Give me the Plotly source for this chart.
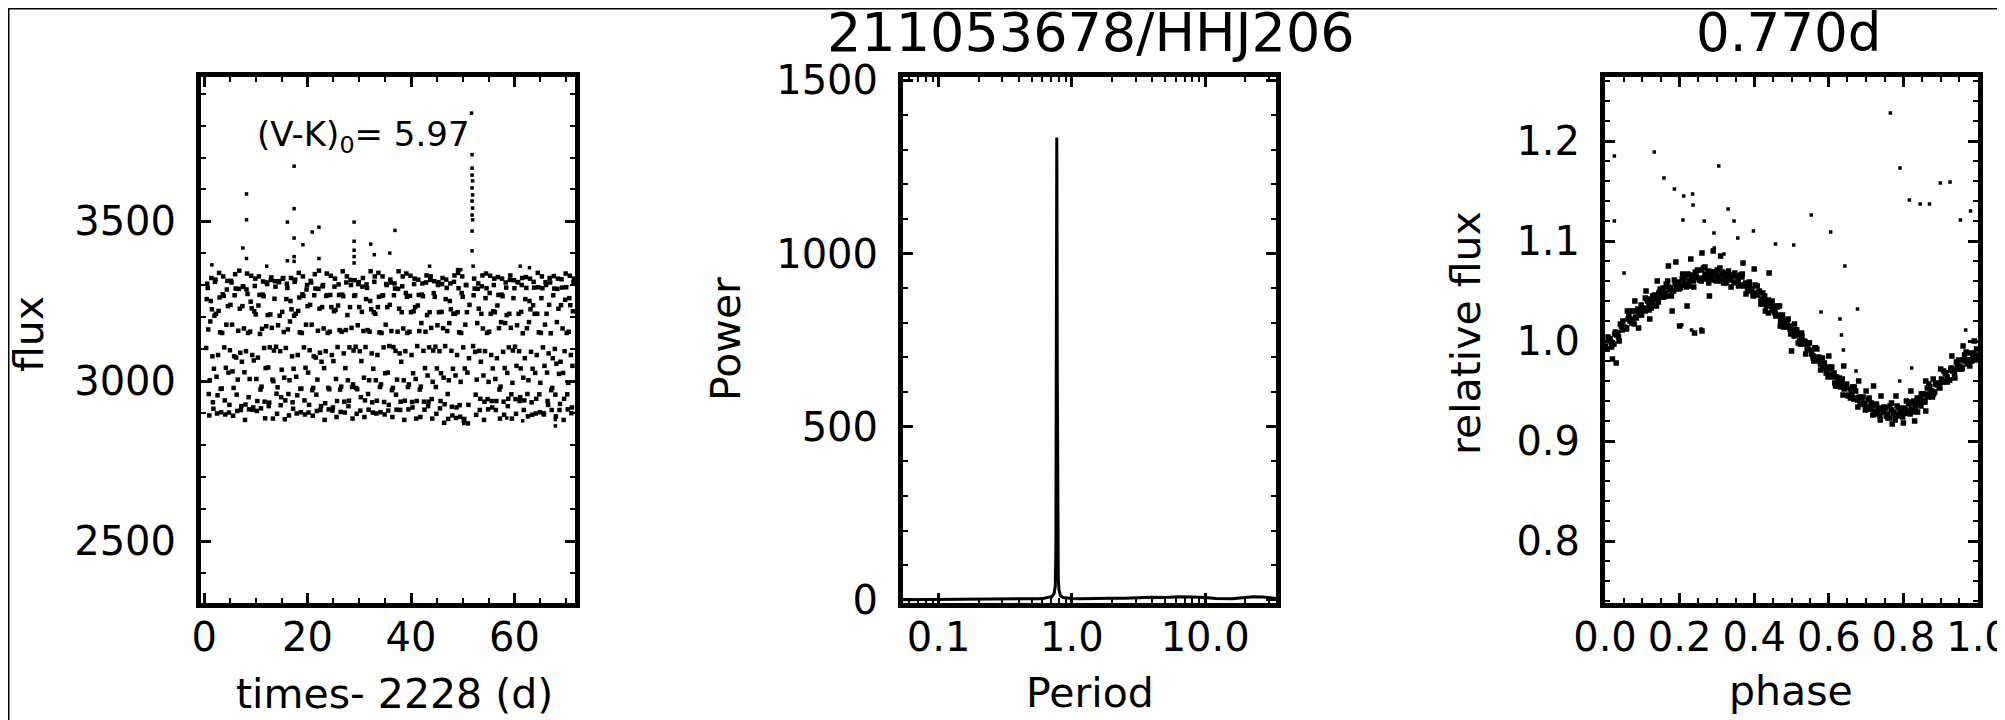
import math
import plotly.graph_objects as go

# ---------------- data ----------------
# Left panel: light curve (time - 2228 d, flux) -- two interleaved sample sets
time_days = [
    0.4, 0.6, 0.8, 1.0, 1.2, 1.4, 1.6, 1.8, 2.0, 2.2, 2.4, 2.6, 2.8, 3.0, 3.2, 3.4,
    3.6, 3.8, 4.0, 4.2, 4.4, 4.6, 4.8, 5.0, 5.2, 5.4, 5.6, 5.8, 6.0, 6.2, 6.4, 6.6,
    6.8, 7.0, 7.2, 7.4, 7.6, 7.8, 8.0, 8.2, 8.4, 8.6, 8.8, 9.0, 9.2, 9.4, 9.6, 9.8,
    10.0, 10.2, 10.4, 10.6, 10.8, 11.0, 11.2, 11.4, 11.6, 11.8, 12.0, 12.2, 12.4, 12.6, 12.8, 13.0,
    13.2, 13.4, 13.6, 13.8, 14.0, 14.2, 14.4, 14.6, 14.8, 15.0, 15.2, 15.4, 15.6, 15.8, 16.0, 16.2,
    16.4, 16.6, 16.8, 17.0, 17.2, 17.4, 17.6, 17.8, 18.0, 18.2, 18.4, 18.6, 18.8, 19.0, 19.2, 19.4,
    19.6, 19.8, 20.0, 20.2, 20.4, 20.6, 20.8, 21.0, 21.2, 21.4, 21.6, 21.8, 22.0, 22.2, 22.4, 22.6,
    22.8, 23.0, 23.2, 23.4, 23.6, 23.8, 24.0, 24.2, 24.4, 24.6, 24.8, 25.0, 25.2, 25.4, 25.6, 25.8,
    26.0, 26.2, 26.4, 26.6, 26.8, 27.0, 27.2, 27.4, 27.6, 27.8, 28.0, 28.2, 28.4, 28.6, 28.8, 29.0,
    29.2, 29.4, 29.6, 29.8, 30.0, 30.2, 30.4, 30.6, 30.8, 31.0, 31.2, 31.4, 31.6, 31.8, 32.0, 32.2,
    32.4, 32.6, 32.8, 33.0, 33.2, 33.4, 33.6, 33.8, 34.0, 34.2, 34.4, 34.6, 34.8, 35.0, 35.2, 35.4,
    35.6, 35.8, 36.0, 36.2, 36.4, 36.6, 36.8, 37.0, 37.2, 37.4, 37.6, 37.8, 38.0, 38.2, 38.4, 38.6,
    38.8, 39.0, 39.2, 39.4, 39.6, 39.8, 40.0, 40.2, 40.4, 40.6, 40.8, 41.0, 41.2, 41.4, 41.6, 41.8,
    42.0, 42.2, 42.4, 42.6, 42.8, 43.0, 43.2, 43.4, 43.6, 43.8, 44.0, 44.2, 44.4, 44.6, 44.8, 45.0,
    45.2, 45.4, 45.6, 45.8, 46.0, 46.2, 46.4, 46.6, 46.8, 47.0, 47.2, 47.4, 47.6, 47.8, 48.0, 48.2,
    48.4, 48.6, 48.8, 49.0, 49.2, 49.4, 49.6, 49.8, 50.0, 50.2, 50.4, 50.6, 50.8, 51.0, 51.2,
    52.0, 52.2, 52.4, 52.6, 52.8, 53.0, 53.2, 53.4, 53.6, 53.8, 54.0, 54.2, 54.4, 54.6,
    54.8, 55.0, 55.2, 55.4, 55.6, 55.8, 56.0, 56.2, 56.4, 56.6, 56.8, 57.0, 57.2, 57.4, 57.6, 57.8,
    58.0, 58.2, 58.4, 58.6, 58.8, 59.0, 59.2, 59.4, 59.6, 59.8, 60.0, 60.2, 60.4, 60.6, 60.8, 61.0,
    61.2, 61.4, 61.6, 61.8, 62.0, 62.2, 62.4, 62.6, 62.8, 63.0, 63.2, 63.4, 63.6, 63.8, 64.0, 64.2,
    64.4, 64.6, 64.8, 65.0, 65.2, 65.4, 65.6, 65.8, 66.0, 66.2, 66.4, 66.6, 66.8, 67.0, 67.2, 67.4,
    67.6, 67.8, 68.0, 68.2, 68.4, 68.6, 68.8, 69.0, 69.2, 69.4, 69.6, 69.8, 70.0, 70.2, 70.4, 70.6,
    70.8, 71.0, 71.2, 71.4,
]
flux = [
    3104, 3305, 3162, 2893, 3187, 3323, 3078, 2914, 3205, 3318, 3014, 2956, 3220, 3262, 2976, 2977,
    3272, 3267, 2940, 3042, 3287, 3235, 2902, 3097, 3314, 3177, 2892, 3078, 3335, 3074, 2907, 3158,
    3346, 3089, 2922, 3235, 3295, 3028, 2927, 3287, 3273, 2950, 3007, 3249, 3228, 2911, 3065, 3298,
    3209, 2907, 3074, 3328, 3148, 2915, 3164, 3312, 3104, 2884, 3172, 3304, 3043, 2933, 3209, 3325,
    3005, 3000, 3258, 3296, 2961, 2981, 3313, 3205, 2925, 3036, 3321, 3154, 2881, 3104, 3305, 3162,
    2893, 3187, 3323, 3078, 2914, 3205, 3318, 3014, 2956, 3220, 3262, 2976, 2977, 3272, 3267, 2940,
    3042, 3287, 3235, 2902, 3097, 3314, 3177, 2892, 3078, 3335, 3074, 2907, 3158, 3346, 3089, 2922,
    3232, 3301, 3041, 2931, 3267, 3269, 2979, 2975, 3270, 3232, 2908, 3063, 3296, 3223, 2888, 3107,
    3303, 3160, 2904, 3155, 3344, 3087, 2902, 3160, 3328, 3003, 2939, 3232, 3301, 2982, 2990, 3267,
    3269, 2979, 2975, 3304, 3232, 2908, 3063, 3296, 3157, 2888, 3107, 3303, 3160, 2911, 3155, 3344,
    3087, 2902, 3216, 3328, 3003, 2939, 3232, 3264, 2982, 2990, 3267, 3269, 2935, 3025, 3304, 3232,
    2908, 3110, 3318, 3157, 2888, 3107, 3306, 3095, 2911, 3155, 3344, 3087, 2936, 3216, 3328, 3003,
    2939, 3276, 3264, 2982, 2990, 3267, 3216, 2935, 3025, 3304, 3232, 2883, 3110, 3318, 3157, 2888,
    3182, 3306, 3095, 2911, 3155, 3331, 3018, 2936, 3216, 3328, 2944, 2998, 3276, 3264, 2982, 3040,
    3301, 3216, 2915, 3025, 3304, 3166, 2870, 3110, 3318, 3157, 2882, 3182, 3306, 3095, 2893, 3211,
    3331, 3018, 2918, 3216, 3291, 2925, 2998, 3276, 3264, 2876, 3040, 3301, 3216, 2868, 3072,
    3110, 3321, 3092, 2895, 3182, 3306, 3095, 2945, 3211, 3331, 3018, 2936, 3260, 3291,
    2944, 2998, 3276, 3211, 2938, 3040, 3301, 3216, 2910, 3072, 3326, 3166, 2883, 3185, 3321, 3092,
    2895, 3182, 3293, 3026, 2945, 3211, 3331, 2959, 2995, 3260, 3291, 2944, 3048, 3310, 3211, 2938,
    3040, 3301, 3150, 2910, 3072, 3326, 3166, 2890, 3185, 3321, 3092, 2895, 3238, 3293, 3026, 2945,
    3211, 3294, 2959, 2995, 3260, 3291, 2900, 3048, 3310, 3211, 2938, 3087, 3323, 3150, 2910, 3072,
    3329, 3101, 2890, 3185, 3321, 3023, 2929, 3238, 3293, 3026, 2945, 3255, 3294, 2959, 2995, 3260,
    3238, 2900, 3048, 3310,
]
time_days_b = [
    0.5, 0.7, 0.9, 1.1, 1.3, 1.5, 1.7, 1.9, 2.1, 2.3, 2.5, 2.7, 2.9, 3.1, 3.3, 3.5,
    3.7, 3.9, 4.1, 4.3, 4.5, 4.7, 4.9, 5.1, 5.3, 5.5, 5.7, 5.9, 6.1, 6.3, 6.5, 6.7,
    6.9, 7.1, 7.3, 7.5, 7.7, 7.9, 8.1, 8.3, 8.5, 8.7, 8.9, 9.1, 9.3, 9.5, 9.7, 9.9,
    10.1, 10.3, 10.5, 10.7, 10.9, 11.1, 11.3, 11.5, 11.7, 11.9, 12.1, 12.3, 12.5, 12.7, 12.9, 13.1,
    13.3, 13.5, 13.7, 13.9, 14.1, 14.3, 14.5, 14.7, 14.9, 15.1, 15.3, 15.5, 15.7, 15.9, 16.1, 16.3,
    16.5, 16.7, 16.9, 17.1, 17.3, 17.5, 17.7, 17.9, 18.1, 18.3, 18.5, 18.7, 18.9, 19.1, 19.3, 19.5,
    19.7, 19.9, 20.1, 20.3, 20.5, 20.7, 20.9, 21.1, 21.3, 21.5, 21.7, 21.9, 22.1, 22.3, 22.5, 22.7,
    22.9, 23.1, 23.3, 23.5, 23.7, 23.9, 24.1, 24.3, 24.5, 24.7, 24.9, 25.1, 25.3, 25.5, 25.7, 25.9,
    26.1, 26.3, 26.5, 26.7, 26.9, 27.1, 27.3, 27.5, 27.7, 27.9, 28.1, 28.3, 28.5, 28.7, 28.9, 29.1,
    29.3, 29.5, 29.7, 29.9, 30.1, 30.3, 30.5, 30.7, 30.9, 31.1, 31.3, 31.5, 31.7, 31.9, 32.1, 32.3,
    32.5, 32.7, 32.9, 33.1, 33.3, 33.5, 33.7, 33.9, 34.1, 34.3, 34.5, 34.7, 34.9, 35.1, 35.3, 35.5,
    35.7, 35.9, 36.1, 36.3, 36.5, 36.7, 36.9, 37.1, 37.3, 37.5, 37.7, 37.9, 38.1, 38.3, 38.5, 38.7,
    38.9, 39.1, 39.3, 39.5, 39.7, 39.9, 40.1, 40.3, 40.5, 40.7, 40.9, 41.1, 41.3, 41.5, 41.7, 41.9,
    42.1, 42.3, 42.5, 42.7, 42.9, 43.1, 43.3, 43.5, 43.7, 43.9, 44.1, 44.3, 44.5, 44.7, 44.9, 45.1,
    45.3, 45.5, 45.7, 45.9, 46.1, 46.3, 46.5, 46.7, 46.9, 47.1, 47.3, 47.5, 47.7, 47.9, 48.1, 48.3,
    48.5, 48.7, 48.9, 49.1, 49.3, 49.5, 49.7, 49.9, 50.1, 50.3, 50.5, 50.7, 50.9, 51.1, 51.3,
    52.1, 52.3, 52.5, 52.7, 52.9, 53.1, 53.3, 53.5, 53.7, 53.9, 54.1, 54.3, 54.5, 54.7,
    54.9, 55.1, 55.3, 55.5, 55.7, 55.9, 56.1, 56.3, 56.5, 56.7, 56.9, 57.1, 57.3, 57.5, 57.7, 57.9,
    58.1, 58.3, 58.5, 58.7, 58.9, 59.1, 59.3, 59.5, 59.7, 59.9, 60.1, 60.3, 60.5, 60.7, 60.9, 61.1,
    61.3, 61.5, 61.7, 61.9, 62.1, 62.3, 62.5, 62.7, 62.9, 63.1, 63.3, 63.5, 63.7, 63.9, 64.1, 64.3,
    64.5, 64.7, 64.9, 65.1, 65.3, 65.5, 65.7, 65.9, 66.1, 66.3, 66.5, 66.7, 66.9, 67.1, 67.3, 67.5,
    67.7, 67.9, 68.1, 68.3, 68.5, 68.7, 68.9, 69.1, 69.3, 69.5, 69.7, 69.9, 70.1, 70.3, 70.5, 70.7,
    70.9, 71.1, 71.3, 71.5,
]
flux_b = [
    3257, 3292, 2960, 3003, 3251, 3225, 2934, 3039, 3311, 3211, 2899, 3082, 3339, 3153, 2903, 3151,
    3328, 3106, 2896, 3177, 3314, 3027, 2926, 3239, 3309, 3031, 2979, 3269, 3290, 2958, 3005, 3289,
    3227, 2910, 3061, 3297, 3165, 2879, 3094, 3337, 3151, 2912, 3155, 3330, 3082, 2918, 3219, 3321,
    3007, 2938, 3237, 3270, 2974, 2983, 3271, 3266, 2936, 3041, 3309, 3207, 2922, 3106, 3317, 3167,
    2883, 3096, 3313, 3108, 2898, 3175, 3310, 3094, 2950, 3217, 3323, 3011, 2940, 3257, 3292, 2960,
    3003, 3251, 3225, 2934, 3039, 3311, 3211, 2899, 3082, 3339, 3153, 2903, 3151, 3328, 3106, 2896,
    3177, 3301, 3027, 2926, 3239, 3309, 2972, 2979, 3269, 3290, 2958, 3005, 3289, 3227, 2910, 3061,
    3297, 3165, 2879, 3094, 3337, 3151, 2912, 3155, 3330, 3082, 2918, 3219, 3321, 3007, 2938, 3237,
    3270, 2974, 2983, 3271, 3266, 2936, 3041, 3309, 3207, 2922, 3106, 3317, 3167, 2883, 3096, 3316,
    3108, 2898, 3175, 3310, 3094, 2950, 3217, 3323, 3011, 2940, 3257, 3292, 2960, 3003, 3251, 3225,
    2934, 3039, 3311, 3211, 2899, 3082, 3339, 3153, 2903, 3151, 3328, 3106, 2896, 3177, 3301, 3027,
    2926, 3239, 3309, 2972, 2979, 3269, 3290, 2958, 3005, 3289, 3227, 2910, 3061, 3297, 3165, 2879,
    3094, 3337, 3151, 2912, 3155, 3330, 3082, 2918, 3219, 3321, 3007, 2938, 3237, 3270, 2974, 2983,
    3271, 3266, 2936, 3041, 3309, 3207, 2922, 3106, 3317, 3167, 2883, 3096, 3313, 3108, 2898, 3175,
    3310, 3094, 2938, 3217, 3323, 3011, 2928, 3257, 3292, 2960, 3003, 3251, 3225, 2920, 3039, 3311,
    3211, 2885, 3082, 3339, 3153, 2889, 3151, 3328, 3106, 2882, 3177, 3301, 3027, 2926, 3239,
    3269, 3290, 2958, 3005, 3289, 3227, 2910, 3061, 3297, 3165, 2879, 3094, 3337, 3151,
    2912, 3155, 3330, 3082, 2918, 3219, 3321, 3007, 2938, 3237, 3270, 2974, 2983, 3271, 3266, 2936,
    3041, 3309, 3207, 2922, 3106, 3317, 3167, 2883, 3096, 3316, 3108, 2898, 3175, 3310, 3094, 2950,
    3217, 3323, 3011, 2940, 3257, 3292, 2960, 3003, 3251, 3225, 2934, 3039, 3311, 3211, 2899, 3082,
    3339, 3153, 2903, 3151, 3328, 3106, 2896, 3177, 3301, 3027, 2926, 3239, 3309, 2972, 2979, 3269,
    3290, 2958, 3055, 3289, 3227, 2910, 3061, 3319, 3165, 2879, 3094, 3337, 3151, 2912, 3155, 3330,
    3082, 2918, 3219, 3321,
]
# isolated points (flare near day 51.8 and scattered outliers)
time_outliers = [
    51.7, 51.8, 51.8, 51.8, 51.9, 51.8, 51.9, 51.8, 51.9, 51.8, 51.9, 51.8, 51.8, 52.0,
    8.2, 8.2, 7.5, 8.2, 17.4, 17.4, 16.1, 17.4, 19.1, 20.9, 22.2, 22.2, 16.1, 17.4, 17.4,
    29.0, 29.0, 29.0, 29.0, 29.0, 32.2, 32.9, 35.9, 36.9, 12.1, 1.5, 43.6, 49.0, 49.6,
    61.1, 62.9, 61.6, 67.9, 67.9, 50.2, 58.5,
]
flux_outliers = [
    3839, 3709, 3667, 3645, 3627, 3605, 3583, 3564, 3542, 3520, 3505, 3470, 3408, 3360,
    3586, 3505, 3417, 3384, 3673, 3540, 3498, 3448, 3427, 3467, 3482, 3384, 3377, 3390, 3375,
    3498, 3438, 3410, 3390, 3370, 3429, 3396, 3401, 3472, 3360, 3364, 3360, 3349, 3349,
    3360, 3355, 2876, 2860, 2880, 2868, 2885,
]

# Middle panel: periodogram
period_d = [
    0.054, 0.06, 0.07, 0.08, 0.09, 0.10, 0.12, 0.15, 0.18, 0.22,
    0.27, 0.33, 0.38, 0.44, 0.5, 0.56, 0.62, 0.67, 0.71, 0.735,
    0.75, 0.758, 0.764, 0.768, 0.770, 0.772, 0.776, 0.782, 0.79, 0.80,
    0.82, 0.86, 0.92, 1.0, 1.15, 1.35, 1.6, 2.0, 2.5, 3.2,
    4.0, 5.0, 6.3, 8.0, 10.0, 12.0, 14.0, 16.0, 19.0, 23.0,
    27.0, 31.0, 34.0,
]
power = [
    0.5, 0.6, 0.8, 0.7, 0.9, 1.1, 1.0, 1.4, 1.2, 1.8,
    2.1, 1.6, 2.5, 2.2, 3.0, 3.6, 4.5, 6.5, 10, 18,
    40, 150, 560, 1150, 1335, 1200, 700, 220, 60, 28,
    12, 7, 5, 4, 3.5, 4.2, 3.8, 5, 4.6, 6.2,
    7.5, 6.8, 9, 8, 7, 4, 2.5, 3, 6, 9,
    8, 5, 4,
]

# Right panel: phase-folded light curve (P = 0.770 d)
phase_band = [
    0.001, 0.006, 0.011, 0.016, 0.021, 0.026, 0.031, 0.036, 0.041, 0.046,
    0.052, 0.057, 0.062, 0.067, 0.072, 0.077, 0.082, 0.087, 0.092, 0.097,
    0.103, 0.108, 0.113, 0.118, 0.123, 0.128, 0.133, 0.138, 0.143, 0.148,
    0.151, 0.156, 0.161, 0.166, 0.171, 0.176, 0.181, 0.186, 0.191, 0.196,
    0.202, 0.207, 0.212, 0.217, 0.222, 0.227, 0.232, 0.237, 0.242, 0.247,
    0.253, 0.258, 0.263, 0.268, 0.273, 0.278, 0.283, 0.288, 0.293, 0.298,
    0.301, 0.306, 0.311, 0.316, 0.321, 0.326, 0.331, 0.336, 0.341, 0.346,
    0.352, 0.357, 0.362, 0.367, 0.372, 0.377, 0.382, 0.387, 0.392, 0.397,
    0.403, 0.408, 0.413, 0.418, 0.423, 0.428, 0.433, 0.438, 0.443, 0.448,
    0.451, 0.456, 0.461, 0.466, 0.471, 0.476, 0.481, 0.486, 0.491, 0.496,
    0.502, 0.507, 0.512, 0.517, 0.522, 0.527, 0.532, 0.537, 0.542, 0.547,
    0.553, 0.558, 0.563, 0.568, 0.573, 0.578, 0.583, 0.588, 0.593, 0.598,
    0.601, 0.606, 0.611, 0.616, 0.621, 0.626, 0.631, 0.636, 0.641, 0.646,
    0.652, 0.657, 0.662, 0.667, 0.672, 0.677, 0.682, 0.687, 0.692, 0.697,
    0.702, 0.707, 0.712, 0.717, 0.722, 0.727, 0.732, 0.737, 0.742, 0.747,
    0.753, 0.758, 0.763, 0.768, 0.773, 0.778, 0.783, 0.788, 0.793, 0.798,
    0.802, 0.807, 0.812, 0.817, 0.822, 0.827, 0.832, 0.837, 0.842, 0.847,
    0.851, 0.856, 0.861, 0.866, 0.871, 0.876, 0.881, 0.886, 0.891, 0.896,
    0.902, 0.907, 0.912, 0.917, 0.922, 0.927, 0.932, 0.937, 0.942, 0.947,
    0.951, 0.956, 0.961, 0.966, 0.971, 0.976, 0.981, 0.986, 0.991, 0.996,
    0.004, 0.014, 0.024, 0.034, 0.044, 0.054, 0.064, 0.074, 0.084, 0.094,
    0.104, 0.114, 0.124, 0.134, 0.144, 0.154, 0.164, 0.174, 0.184, 0.194,
    0.204, 0.214, 0.224, 0.234, 0.244, 0.254, 0.264, 0.274, 0.284, 0.294,
    0.304, 0.314, 0.324, 0.334, 0.344, 0.354, 0.364, 0.374, 0.384, 0.394,
    0.404, 0.414, 0.424, 0.434, 0.444, 0.454, 0.464, 0.474, 0.484, 0.494,
    0.504, 0.514, 0.524, 0.534, 0.544, 0.554, 0.564, 0.574, 0.584, 0.594,
    0.604, 0.614, 0.624, 0.634, 0.644, 0.654, 0.664, 0.674, 0.684, 0.694,
    0.704, 0.714, 0.724, 0.734, 0.744, 0.754, 0.764, 0.774, 0.784, 0.794,
    0.804, 0.814, 0.824, 0.834, 0.844, 0.854, 0.864, 0.874, 0.884, 0.894,
    0.904, 0.914, 0.924, 0.934, 0.944, 0.954, 0.964, 0.974, 0.984, 0.994,
    0.008, 0.018, 0.028, 0.038, 0.048, 0.058, 0.068, 0.078, 0.088, 0.098,
    0.108, 0.118, 0.128, 0.138, 0.148, 0.158, 0.168, 0.178, 0.188, 0.198,
    0.208, 0.218, 0.228, 0.238, 0.248, 0.258, 0.268, 0.278, 0.288, 0.298,
    0.308, 0.318, 0.328, 0.338, 0.348, 0.358, 0.368, 0.378, 0.388, 0.398,
    0.408, 0.418, 0.428, 0.438, 0.448, 0.458, 0.468, 0.478, 0.488, 0.498,
    0.508, 0.518, 0.528, 0.538, 0.548, 0.558, 0.568, 0.578, 0.588, 0.598,
    0.608, 0.618, 0.628, 0.638, 0.648, 0.658, 0.668, 0.678, 0.688, 0.698,
    0.708, 0.718, 0.728, 0.738, 0.748, 0.758, 0.768, 0.778, 0.788, 0.798,
    0.808, 0.818, 0.828, 0.838, 0.848, 0.858, 0.868, 0.878, 0.888, 0.898,
    0.908, 0.918, 0.928, 0.938, 0.948, 0.958, 0.968, 0.978, 0.988, 0.998,
    0.24, 0.26, 0.20, 0.12, 0.09, 0.18, 0.22, 0.28, 0.17, 0.19,
    0.23, 0.26, 0.29, 0.31, 0.37, 0.40, 0.44, 0.43, 0.47, 0.50,
    0.56, 0.60, 0.64, 0.70, 0.74, 0.77, 0.80, 0.83, 0.86, 0.88,
    0.90, 0.93, 0.96, 0.99, 0.02, 0.03, 0.06, 0.08, 0.11, 0.14,
    0.68, 0.72, 0.78, 0.82, 0.86,
]
relflux_band = [
    0.995, 0.992, 1.002, 0.999, 0.997, 1.007, 1.006, 1.004, 1.017, 1.011,
    1.014, 1.012, 1.022, 1.020, 1.018, 1.030, 1.024, 1.030, 1.026, 1.036,
    1.033, 1.030, 1.042, 1.035, 1.041, 1.037, 1.046, 1.042, 1.039, 1.049,
    1.044, 1.053, 1.048, 1.045, 1.054, 1.053, 1.050, 1.061, 1.054, 1.059,
    1.053, 1.062, 1.059, 1.056, 1.067, 1.060, 1.064, 1.060, 1.069, 1.063,
    1.061, 1.071, 1.063, 1.067, 1.062, 1.070, 1.065, 1.061, 1.069, 1.066,
    1.071, 1.065, 1.060, 1.068, 1.064, 1.060, 1.070, 1.061, 1.065, 1.059,
    1.065, 1.061, 1.056, 1.064, 1.055, 1.058, 1.052, 1.059, 1.051, 1.046,
    1.056, 1.046, 1.049, 1.042, 1.048, 1.041, 1.035, 1.041, 1.036, 1.031,
    1.035, 1.028, 1.034, 1.026, 1.020, 1.026, 1.020, 1.014, 1.022, 1.012,
    1.011, 1.005, 1.011, 1.006, 1.000, 1.008, 0.997, 0.999, 0.992, 0.998,
    0.991, 0.985, 0.993, 0.982, 0.984, 0.977, 0.983, 0.975, 0.968, 0.974,
    0.966, 0.972, 0.964, 0.958, 0.964, 0.960, 0.954, 0.962, 0.952, 0.954,
    0.945, 0.952, 0.947, 0.942, 0.950, 0.941, 0.944, 0.937, 0.944, 0.936,
    0.932, 0.941, 0.932, 0.936, 0.930, 0.937, 0.930, 0.925, 0.933, 0.929,
    0.933, 0.927, 0.923, 0.931, 0.929, 0.925, 0.935, 0.927, 0.932, 0.927,
    0.933, 0.931, 0.928, 0.939, 0.932, 0.938, 0.934, 0.943, 0.938, 0.935,
    0.947, 0.941, 0.947, 0.944, 0.954, 0.950, 0.947, 0.957, 0.956, 0.954,
    0.962, 0.959, 0.968, 0.964, 0.961, 0.971, 0.970, 0.967, 0.979, 0.972,
    0.975, 0.972, 0.981, 0.980, 0.977, 0.988, 0.981, 0.986, 0.983, 0.992,
    0.992, 1.002, 0.997, 1.008, 1.015, 1.013, 1.026, 1.022, 1.023, 1.030,
    1.032, 1.040, 1.033, 1.043, 1.048, 1.044, 1.057, 1.051, 1.050, 1.056,
    1.056, 1.064, 1.055, 1.064, 1.067, 1.062, 1.073, 1.065, 1.062, 1.066,
    1.064, 1.069, 1.058, 1.064, 1.066, 1.058, 1.066, 1.056, 1.050, 1.052,
    1.048, 1.050, 1.037, 1.040, 1.039, 1.029, 1.035, 1.023, 1.016, 1.015,
    1.009, 1.011, 0.997, 1.000, 0.997, 0.987, 0.993, 0.980, 0.973, 0.973,
    0.966, 0.968, 0.955, 0.958, 0.956, 0.946, 0.954, 0.943, 0.937, 0.938,
    0.934, 0.938, 0.927, 0.932, 0.932, 0.925, 0.935, 0.928, 0.925, 0.930,
    0.928, 0.937, 0.929, 0.938, 0.942, 0.939, 0.953, 0.948, 0.949, 0.957,
    0.959, 0.968, 0.961, 0.971, 0.976, 0.974, 0.986, 0.981, 0.980, 0.986,
    1.004, 0.994, 1.009, 1.000, 1.020, 1.013, 1.030, 1.017, 1.032, 1.026,
    1.043, 1.031, 1.045, 1.035, 1.052, 1.044, 1.060, 1.045, 1.058, 1.052,
    1.067, 1.054, 1.066, 1.054, 1.071, 1.060, 1.074, 1.058, 1.069, 1.060,
    1.073, 1.058, 1.068, 1.054, 1.068, 1.055, 1.067, 1.047, 1.056, 1.045,
    1.055, 1.037, 1.045, 1.028, 1.040, 1.025, 1.035, 1.014, 1.020, 1.007,
    1.017, 0.998, 1.005, 0.987, 0.998, 0.983, 0.992, 0.971, 0.978, 0.964,
    0.974, 0.955, 0.963, 0.946, 0.957, 0.943, 0.954, 0.934, 0.943, 0.931,
    0.943, 0.926, 0.936, 0.921, 0.934, 0.923, 0.938, 0.921, 0.933, 0.924,
    0.940, 0.927, 0.940, 0.929, 0.947, 0.939, 0.957, 0.944, 0.958, 0.953,
    0.970, 0.959, 0.973, 0.963, 0.981, 0.973, 0.989, 0.975, 0.988, 0.981,
    1.008, 1.010, 1.015, 1.022, 1.013, 1.030, 1.035, 1.045, 1.075, 1.079,
    1.082, 1.088, 1.090, 1.085, 1.078, 1.072, 1.068, 1.030, 1.015, 0.990,
    0.980, 0.985, 0.975, 0.950, 0.945, 0.917, 0.918, 0.920, 0.930, 0.962,
    0.972, 0.985, 0.995, 1.000, 0.982, 0.978, 1.030, 1.040, 1.050, 1.060,
    0.960, 0.955, 0.945, 0.950, 0.960,
]
phase_outliers = [
    0.025, 0.025, 0.051, 0.132, 0.158, 0.186, 0.211, 0.235, 0.236, 0.209,
    0.266, 0.305, 0.330, 0.346, 0.356, 0.398, 0.292, 0.293, 0.319, 0.457,
    0.506, 0.553, 0.605, 0.643, 0.579, 0.630, 0.677, 0.634, 0.639, 0.765,
    0.791, 0.816, 0.845, 0.870, 0.899, 0.925, 0.953, 0.980, 0.967, 0.822,
    0.790, 0.673, 0.232, 0.258, 0.206,
]
relflux_outliers = [
    1.185, 1.120, 1.068, 1.189, 1.163, 1.152, 1.145, 1.147, 1.136, 1.121,
    1.120, 1.175, 1.132, 1.120, 1.103, 1.110, 1.108, 1.093, 1.087, 1.097,
    1.096, 1.126, 1.109, 1.075, 1.029, 1.022, 1.032, 1.006, 0.991, 1.228,
    1.173, 1.141, 1.137, 1.137, 1.158, 1.159, 1.121, 1.130, 1.011, 0.973,
    0.960, 0.970, 1.011, 1.012, 1.016,
]

# tick labels / ranges
lc_ticks = [0, 20, 40, 60]
flux_ticks = [2500, 3000, 3500]
period_ticks = [0.1, 1.0, 10.0]
period_ticktext = ["0.1", "1.0", "10.0"]
period_minor = [0.06, 0.07, 0.08, 0.09, 0.2, 0.3, 0.4, 0.5, 0.6, 0.7, 0.8, 0.9,
                2, 3, 4, 5, 6, 7, 8, 9, 20, 30]
power_ticks = [0, 500, 1000, 1500]
phase_ticks = [0.0, 0.2, 0.4, 0.6, 0.8, 1.0]
phase_ticktext = ["0.0", "0.2", "0.4", "0.6", "0.8", "1.0"]
rel_ticks = [0.8, 0.9, 1.0, 1.1, 1.2]
rel_ticktext = ["0.8", "0.9", "1.0", "1.1", "1.2"]

W, H = 2005, 720
FONT = "DejaVu Sans"
TICKSIZE = 40
LABSIZE = 41


def px(x):
    return x / W


def py(y):
    return 1 - y / H


YDOM = [py(595), py(69)]

fig = go.Figure()
dot = dict(symbol="square", size=3.5, color="black", line=dict(width=0))
lc_dot = dict(symbol="square", size=4.5, color="black", line=dict(width=0))
band_dot = dict(symbol="square", size=5.5, color="black", line=dict(width=0))
fig.add_trace(go.Scatter(x=time_days, y=flux, mode="markers", marker=lc_dot,
                         xaxis="x", yaxis="y", hoverinfo="skip"))
fig.add_trace(go.Scatter(x=time_days_b, y=flux_b, mode="markers", marker=lc_dot,
                         xaxis="x", yaxis="y", hoverinfo="skip"))
fig.add_trace(go.Scatter(x=time_outliers, y=flux_outliers, mode="markers", marker=dot,
                         xaxis="x", yaxis="y", hoverinfo="skip"))
fig.add_trace(go.Scatter(x=period_d, y=power, mode="lines",
                         line=dict(color="black", width=3),
                         xaxis="x2", yaxis="y2", hoverinfo="skip"))
fig.add_trace(go.Scatter(x=phase_band, y=relflux_band, mode="markers", marker=band_dot,
                         xaxis="x3", yaxis="y3", hoverinfo="skip"))
fig.add_trace(go.Scatter(x=phase_outliers, y=relflux_outliers, mode="markers", marker=dot,
                         xaxis="x3", yaxis="y3", hoverinfo="skip"))


def axis(**kw):
    base = dict(showline=True, linecolor="black", linewidth=5, mirror="ticks",
                ticks="inside", ticklen=10, tickwidth=3, tickcolor="black",
                showgrid=False, zeroline=False, automargin=False, fixedrange=True,
                tickfont=dict(family=FONT, size=TICKSIZE, color="black"))
    base.update(kw)
    return base


def minor(**kw):
    m = dict(ticks="inside", ticklen=5, tickwidth=2, tickcolor="black", showgrid=False)
    m.update(kw)
    return m


YSTAND = 12
XSTAND = -5

fig.update_layout(
    width=W, height=H,
    margin=dict(l=0, r=0, t=0, b=0),
    paper_bgcolor="white", plot_bgcolor="white",
    showlegend=False,
    xaxis=axis(domain=[px(193), px(567)], range=[-0.6, 71.7], tickmode="array",
               tickvals=lc_ticks, anchor="y", tickangle=0, ticklabelstandoff=XSTAND,
               minor=minor(dtick=5)),
    yaxis=axis(domain=YDOM, range=[2306, 3952], tickmode="array",
               tickvals=flux_ticks, anchor="x",
               ticklabelstandoff=YSTAND, minor=minor(dtick=100)),
    xaxis2=axis(domain=[px(895), px(1268)], type="log",
                range=[math.log10(0.054), math.log10(34)], tickmode="array",
                tickvals=period_ticks, ticktext=period_ticktext, anchor="y2", tickangle=0,
                ticklabelstandoff=XSTAND,
                minor=minor(tickmode="array", tickvals=period_minor)),
    yaxis2=axis(domain=YDOM, range=[-9, 1510], tickmode="array",
                tickvals=power_ticks, anchor="x2",
                ticklabelstandoff=YSTAND, minor=minor(dtick=100)),
    xaxis3=axis(domain=[px(1597), px(1970)], range=[0, 1], tickmode="array",
                tickvals=phase_ticks, ticktext=phase_ticktext, anchor="y3", tickangle=0,
                ticklabelstandoff=XSTAND, minor=minor(dtick=0.05)),
    yaxis3=axis(domain=YDOM, range=[0.738, 1.264], tickmode="array",
                tickvals=rel_ticks, ticktext=rel_ticktext, anchor="x3",
                ticklabelstandoff=YSTAND, minor=minor(dtick=0.02)),
)


def label(text, x, y, size, angle=0):
    fig.add_annotation(text=text, x=px(x), y=py(y), xref="paper", yref="paper",
                       xanchor="center", yanchor="middle", showarrow=False,
                       textangle=angle, font=dict(family=FONT, size=size, color="black"))


label("211053678/HHJ206", 1083, 25, 54)
label("0.770d", 1780, 25, 53)
label("flux", 21, 326, LABSIZE, -90)
label("Power", 718, 331, LABSIZE, -90)
label("relative flux", 1458, 325, LABSIZE, -90)
label("times- 2228 (d)", 386, 686, LABSIZE)
label("Period", 1082, 685, LABSIZE)
label("phase", 1783, 683, LABSIZE)
label("(V-K)<sub>0</sub>= 5.97", 355, 128, 34)

# outer frame of the figure
fig.add_shape(type="rect", xref="paper", yref="paper", x0=0, x1=1, y0=0, y1=1,
              line=dict(color="black", width=3), fillcolor="rgba(0,0,0,0)")

fig.write_html("out.html")
